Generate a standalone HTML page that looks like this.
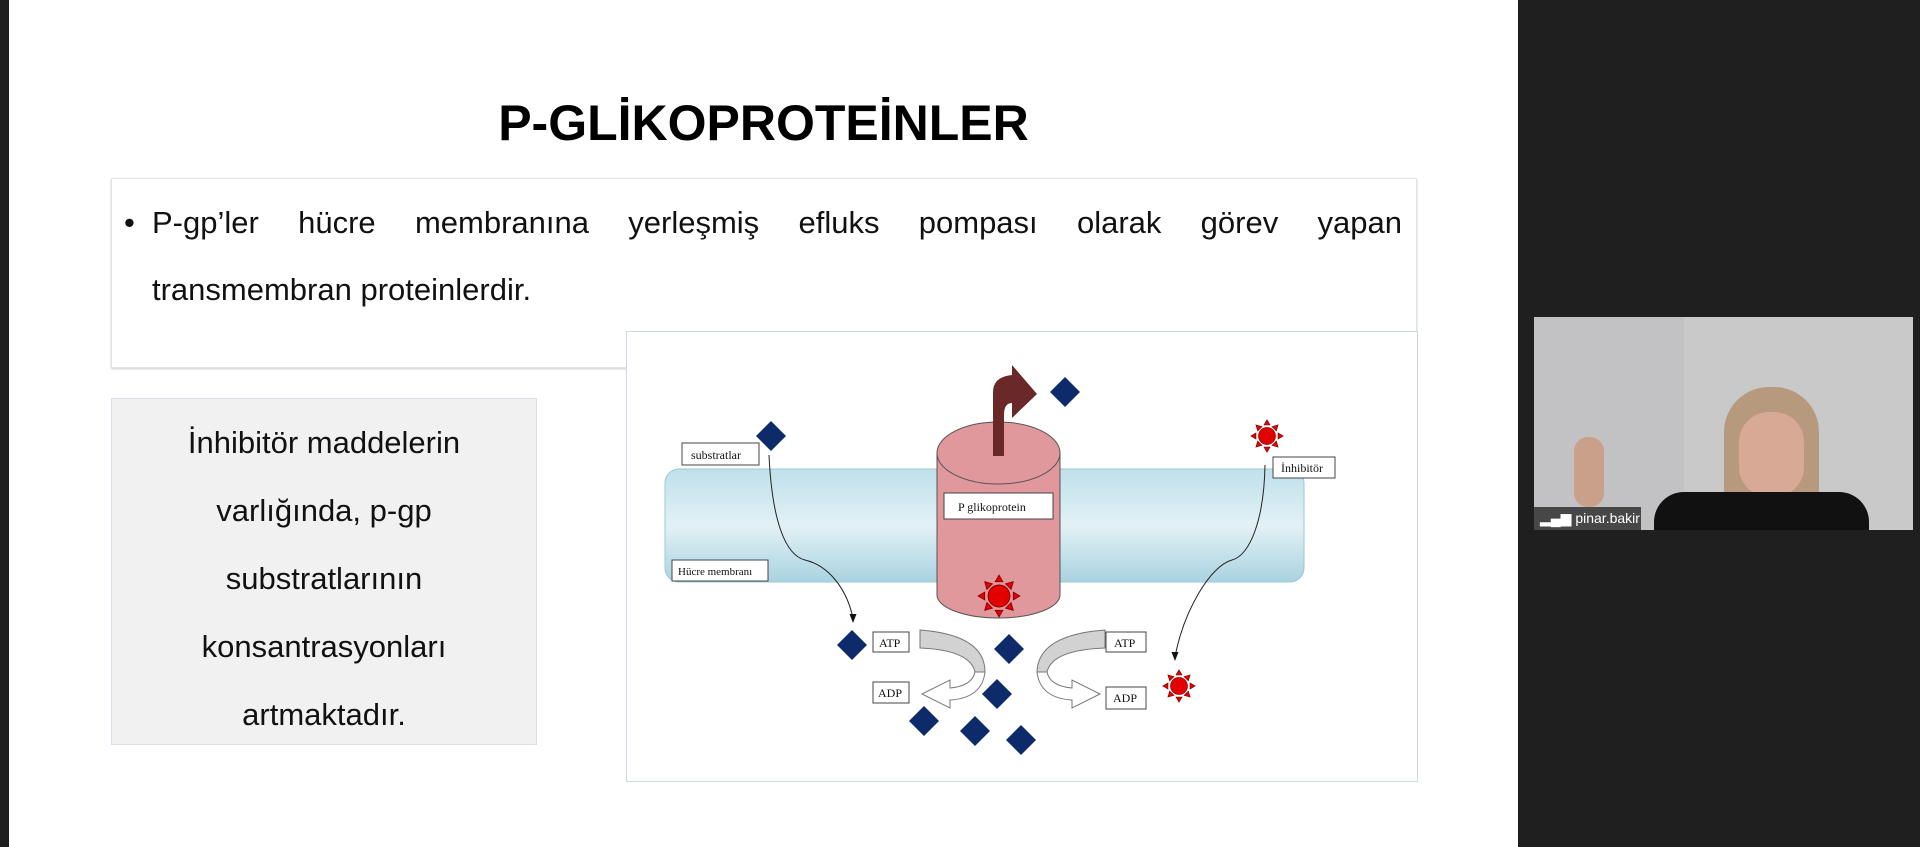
<!DOCTYPE html>
<html><head><meta charset="utf-8"><style>
html,body{margin:0;padding:0;width:1920px;height:847px;overflow:hidden;background:#1f1f1f;font-family:"Liberation Sans",sans-serif}
.slide{position:absolute;left:9px;top:0;width:1509px;height:847px;background:#fff}
.title{position:absolute;left:9px;width:1509px;top:94px;text-align:center;font-weight:bold;font-size:50px;color:#000}
.bullet{position:absolute;left:111px;top:178px;width:1304px;height:188px;border:1px solid #e3e3e3;box-shadow:0 1px 2px #ccc;background:#fff}
.bl{position:absolute;font-size:31px;color:#111}
.side{position:absolute;left:111px;top:398px;width:426px;height:347px;background:#f1f1f1;border:1px solid #dde;text-align:center;font-size:31px;color:#111}
.side div{height:68px;line-height:68px}
.diag{position:absolute;left:626px;top:331px;width:790px;height:449px;border:1px solid #cfd6e4;background:#fff}
.video{position:absolute;left:1534px;top:317px;width:379px;height:213px;background:#c9c9c9}
</style></head><body>
<div class="slide"></div>
<div class="title">P-GLİKOPROTEİNLER</div>
<div class="bullet">
<div class="bl" style="left:12px;top:26px">•</div>
<div class="bl" style="left:40px;top:26px;width:1250px;text-align:justify;text-align-last:justify">P-gp’ler hücre membranına yerleşmiş efluks pompası olarak görev yapan</div>
<div class="bl" style="left:40px;top:93px">transmembran proteinlerdir.</div>
</div>
<div class="side" style="padding-top:10px;box-sizing:border-box">
<div>İnhibitör maddelerin</div><div>varlığında, p-gp</div><div>substratlarının</div><div>konsantrasyonları</div><div>artmaktadır.</div>
</div>
<div class="diag"></div>
<svg style="position:absolute;left:0;top:0" width="1920" height="847" viewBox="0 0 1920 847">
<defs>
<linearGradient id="mem" x1="0" y1="0" x2="0" y2="1"><stop offset="0" stop-color="#bfe0ea"/><stop offset="0.5" stop-color="#e3f1f6"/><stop offset="1" stop-color="#a9d3e0"/></linearGradient>
<g id="star"><circle r="10"/><path d="M0,-19 l3.5,6 h-7z M0,19 l3.5,-6 h-7z M-19,0 l6,3.5 v-7z M19,0 l-6,3.5 v-7z M-13,-13 l7,2 l-5,5z M13,-13 l-7,2 l5,5z M-13,13 l7,-2 l-5,-5z M13,13 l-7,-2 l5,-5z"/></g>
<path id="dia" d="M0,-15 l15,15 l-15,15 l-15,-15z"/>
</defs>
<rect x="665" y="469" width="639" height="113" rx="14" fill="url(#mem)" stroke="#9cc8d6"/>
<!-- cylinder -->
<path d="M937,453 L937,595 A61.5,23 0 0 0 1060,595 L1060,453 Z" fill="#e0989c" stroke="#555" stroke-width="1"/>
<ellipse cx="998.5" cy="453" rx="61.5" ry="31" fill="#e0989c" stroke="#555"/>
<!-- efflux arrow -->
<path d="M993,456 L993,392 Q993,377 1012,375 L1012,365 L1037,394 L1012,418 L1012,403 Q1004,403 1004,415 L1004,456 Z" fill="#6b2828"/>
<!-- labels -->
<g font-family="Liberation Serif,serif" font-size="12" fill="#111">
<rect x="682" y="443" width="77" height="22" fill="#fff" stroke="#444"/><text x="691" y="459">substratlar</text>
<rect x="944" y="493" width="109" height="26" fill="#fff" stroke="#444"/><text x="958" y="511">P glikoprotein</text>
<rect x="672" y="560" width="96" height="21" fill="#fff" stroke="#444"/><text x="678" y="575" font-size="11">Hücre membranı</text>
<rect x="1273" y="457" width="62" height="21" fill="#fff" stroke="#444"/><text x="1281" y="472">İnhibitör</text>
<rect x="873" y="632" width="36" height="20" fill="#fff" stroke="#444"/><text x="879" y="647">ATP</text>
<rect x="1106" y="632" width="40" height="20" fill="#fff" stroke="#444"/><text x="1114" y="647">ATP</text>
<rect x="873" y="682" width="36" height="21" fill="#fff" stroke="#444"/><text x="878" y="697">ADP</text>
<rect x="1106" y="687" width="40" height="22" fill="#fff" stroke="#444"/><text x="1113" y="702">ADP</text>
</g>
<!-- connectors -->
<path d="M769,455 C772,520 785,555 805,560 C830,566 846,590 852,614" fill="none" stroke="#222" stroke-width="1"/>
<path d="M853,623 l-3.5,-9 h7z" fill="#111"/>
<path d="M1265,465 C1264,520 1250,555 1232,560 C1210,566 1185,610 1176,652" fill="none" stroke="#222" stroke-width="1"/>
<path d="M1175,661 l-3.5,-9 h7z" fill="#111"/>
<!-- gray curved arrows -->
<path d="M920,630 Q985,635 985,672 L975,672 Q970,650 920,648 Z" fill="#d2d2d2" stroke="#777"/>
<path d="M1105,630 Q1038,635 1037,672 L1047,672 Q1052,650 1105,648 Z" fill="#d2d2d2" stroke="#777"/>
<path d="M985,672 Q982,698 950,700 L950,708 L922,694 L950,680 L950,688 Q972,686 975,672 Z" fill="#fff" stroke="#777"/>
<path d="M1037,672 Q1040,698 1072,700 L1072,708 L1100,694 L1072,680 L1072,688 Q1050,686 1047,672 Z" fill="#fff" stroke="#777"/>
<!-- diamonds -->
<g fill="#0d2a6a">
<use href="#dia" x="1065" y="392"/>
<use href="#dia" x="771" y="436"/>
<use href="#dia" x="852" y="645"/>
<use href="#dia" x="1009" y="649"/>
<use href="#dia" x="997" y="694"/>
<use href="#dia" x="924" y="721"/>
<use href="#dia" x="975" y="731"/>
<use href="#dia" x="1021" y="740"/>
</g>
<!-- stars -->
<g fill="#e30000" stroke="#8b0000" stroke-width="0.8">
<use href="#star" transform="translate(1267,436) scale(0.85)"/>
<use href="#star" transform="translate(999,596) scale(1.1)"/>
<use href="#star" transform="translate(1179,686) scale(0.85)"/>
</g>
</svg>
<div class="video">
<div style="position:absolute;left:0;top:0;width:150px;height:213px;background:#c2c2c4"></div>
<div style="position:absolute;left:190px;top:70px;width:95px;height:130px;border-radius:45px 45px 20px 20px;background:#b79a7e"></div>
<div style="position:absolute;left:205px;top:95px;width:65px;height:85px;border-radius:30px;background:#d8a995"></div>
<div style="position:absolute;left:120px;top:175px;width:215px;height:38px;border-radius:30px 30px 0 0;background:#111"></div>
<div style="position:absolute;left:40px;top:120px;width:30px;height:70px;border-radius:14px;background:#caa08a"></div>
<div style="position:absolute;left:0;top:190px;width:107px;height:23px;background:rgba(40,40,40,.8);color:#fff;font-size:14px;line-height:23px;padding-left:6px;box-sizing:border-box">▂▄▆ pinar.bakir</div>
</div>
</body></html>
